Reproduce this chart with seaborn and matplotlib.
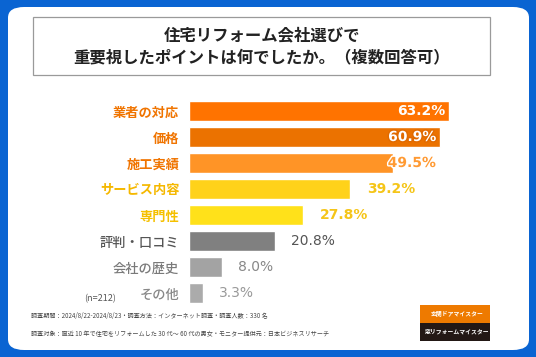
import matplotlib
matplotlib.use("Agg")
import matplotlib.pyplot as plt
import matplotlib.patheffects as pe
from matplotlib.patches import FancyBboxPatch, Rectangle
import seaborn as sns
import pandas as pd

categories = ["業者の対応", "価格", "施工実績", "サービス内容", "専門性", "評判・口コミ", "会社の歴史", "その他"]
values = [63.2, 60.9, 49.5, 39.2, 27.8, 20.8, 8.0, 3.3]
value_labels = ["63.2%", "60.9%", "49.5%", "39.2%", "27.8%", "20.8%", "8.0%", "3.3%"]
bar_colors = ["#FF7300", "#EB7200", "#FF9426", "#FFD21A", "#FFE11A", "#808080", "#A3A3A3", "#ABABAB"]
label_colors = ["#F07400", "#F07400", "#F07400", "#F5B800", "#F5C000", "#555555", "#7A7A7A", "#888888"]
label_weights = ["bold", "bold", "bold", "bold", "bold", "medium", "medium", "medium"]
value_colors = ["white", "white", "#FF9A33", "#F5C518", "#F5C518", "#555555", "#888888", "#999999"]
value_weights = ["bold", "bold", "bold", "bold", "bold", "normal", "normal", "normal"]
title_text = "住宅リフォーム会社選びで\n重要視したポイントは何でしたか。（複数回答可）"
footer1 = "調査期間：2024/8/22-2024/8/23・調査方法：インターネット調査・調査人数：330 名"
footer2 = "調査対象：直近 10 年で住宅をリフォームした 30 代～ 60 代の男女・モニター提供元：日本ビジネスリサーチ"
n_text = "(n=212)"

sns.set_theme(style="white")
plt.rcParams["font.family"] = ["Noto Sans CJK JP", "DejaVu Sans"]

W, H = 536, 357
fig = plt.figure(figsize=(W / 100, H / 100), dpi=100)
fig.patch.set_facecolor("#0A64D2")

def fx(x):
    return x / W

def fy(y):
    return 1 - y / H

# white rounded panel
panel = FancyBboxPatch((fx(8), fy(350)), fx(521), 343 / H,
                       boxstyle="round,pad=0,rounding_size=0.03",
                       transform=fig.transFigure, facecolor="white", edgecolor="none", zorder=-3)
fig.patches.append(panel)

# title box
tbox = Rectangle((fx(33), fy(75)), fx(457), 58 / H, transform=fig.transFigure,
                 facecolor="white", edgecolor="#9A9A9A", linewidth=0.9, zorder=-2)
fig.patches.append(tbox)
fig.text(fx(262), fy(46), title_text, ha="center", va="center", fontsize=11.8,
         fontweight="bold", color="#222222", linespacing=1.3)

df = pd.DataFrame({"cat": categories, "val": values})
ax = fig.add_axes([fx(189), fy(306), fx(300), 208 / H])
ax.set_zorder(2)
sns.barplot(data=df, x="val", y="cat", hue="cat", palette=bar_colors, legend=False,
            width=0.76, ax=ax, saturation=1)
ax.set_xlim(0, 300 / 4.114)
ax.set_facecolor("none")
ax.patch.set_alpha(0)
for s in ax.spines.values():
    s.set_visible(False)
ax.set_xlabel("")
ax.set_ylabel("")
ax.set_xticks([])
ax.tick_params(axis="y", length=0, pad=7)
for lab, c, w in zip(ax.get_yticklabels(), label_colors, label_weights):
    lab.set_color(c)
    lab.set_fontweight(w)
    lab.set_fontsize(9.5)

for i, (v, t) in enumerate(zip(values, value_labels)):
    kw = dict(va="center", fontsize=10, fontweight=value_weights[i], family="DejaVu Sans")
    if i == 0:
        ax.text(v - 0.8, i, t, ha="right", color=value_colors[i], **kw)
    elif i == 1:
        ax.text(v - 0.8, i, t, ha="right", color=value_colors[i],
                path_effects=[pe.withStroke(linewidth=2, foreground="#E06A00")], **kw)
    elif i == 2:
        ax.text(v - 1.2, i, t, ha="left", color=value_colors[i],
                path_effects=[pe.withStroke(linewidth=2, foreground="white")], **kw)
    else:
        ax.text(v + 4.0, i, t, ha="left", color=value_colors[i], **kw)

fig.text(fx(100), fy(299), n_text, ha="center", va="center", fontsize=6.5, color="#555555")
fig.text(fx(31), fy(316), footer1, ha="left", va="center", fontsize=4.4, color="#444444")
fig.text(fx(31), fy(334), footer2, ha="left", va="center", fontsize=4.4, color="#444444")

# logos
fig.patches.append(Rectangle((fx(420), fy(323)), fx(70), 18 / H, transform=fig.transFigure,
                             facecolor="#EE7A00", edgecolor="none", zorder=-1))
fig.patches.append(Rectangle((fx(420), fy(341)), fx(70), 18 / H, transform=fig.transFigure,
                             facecolor="#231815", edgecolor="none", zorder=-1))
fig.text(fx(457), fy(314), "玄関ドアマイスター", ha="center", va="center", fontsize=4.2,
         fontweight="bold", color="white")
fig.text(fx(457), fy(332), "窓リフォームマイスター", ha="center", va="center", fontsize=4.2,
         fontweight="bold", color="white")

fig.savefig("out.png", dpi=100, facecolor=fig.get_facecolor())
